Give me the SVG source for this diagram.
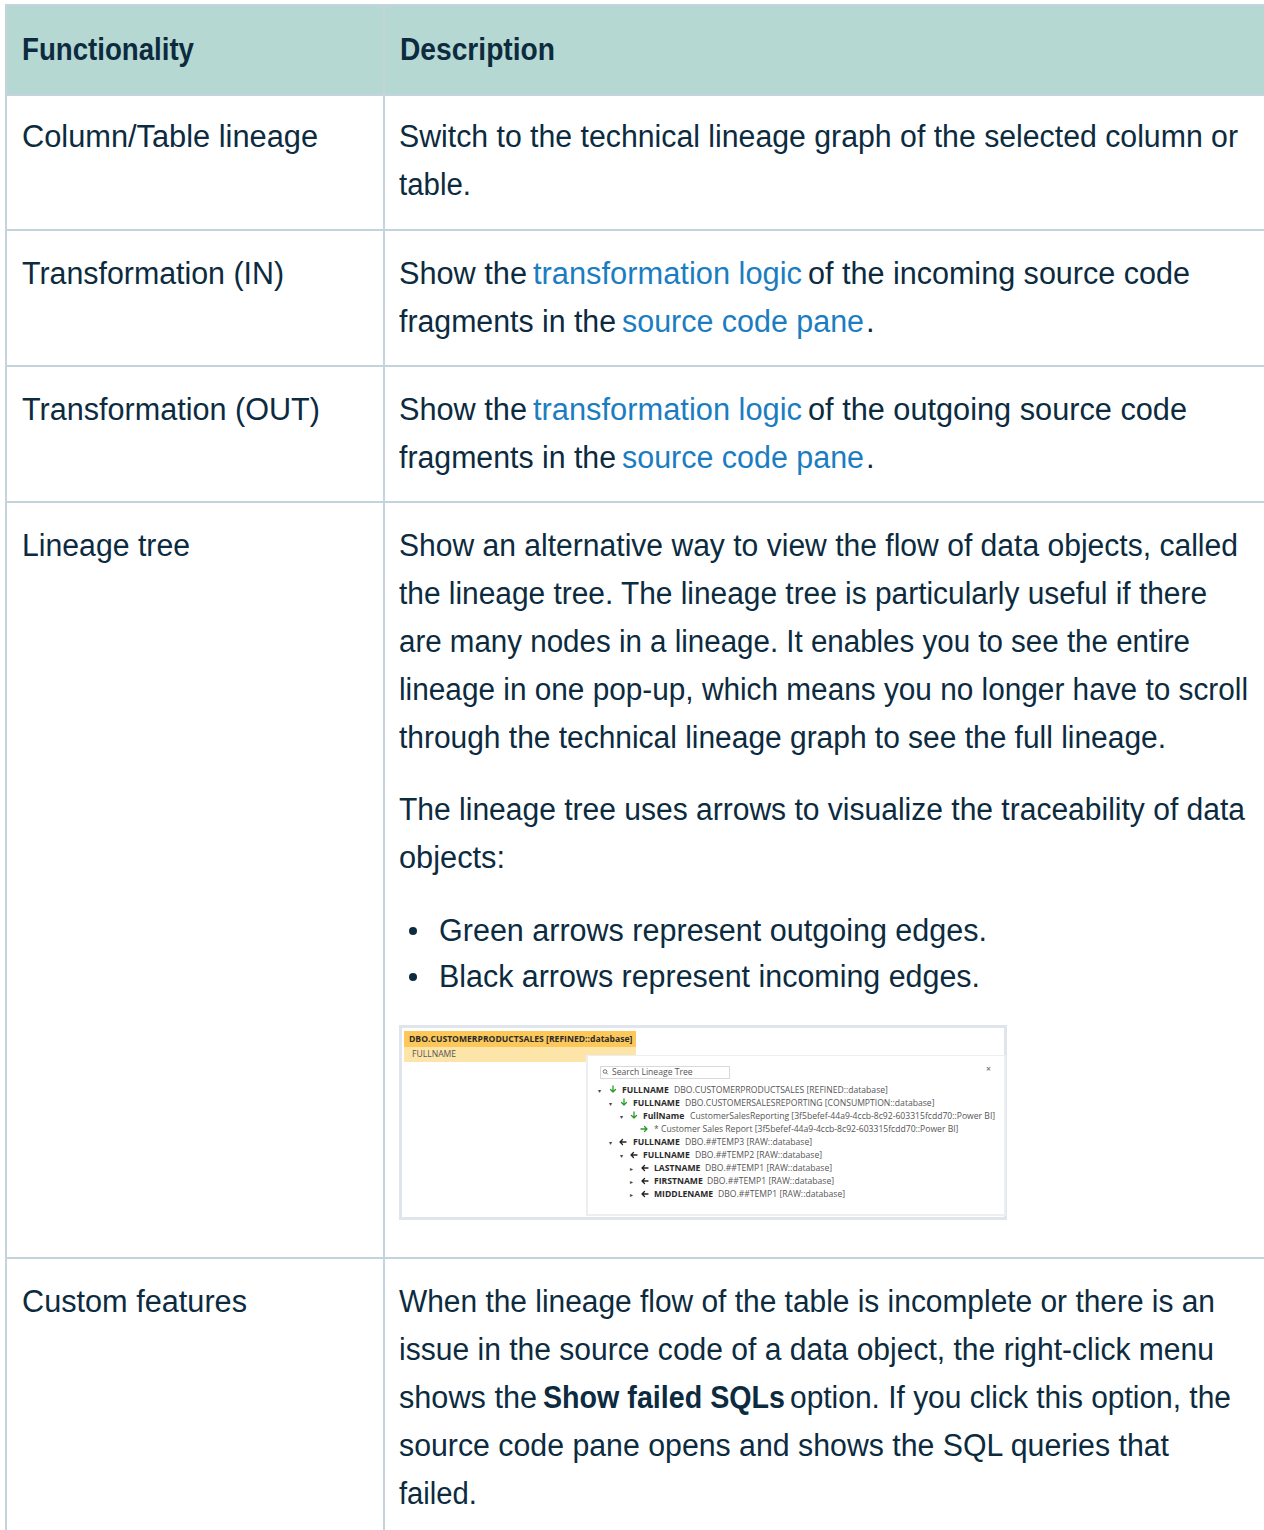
<svg xmlns="http://www.w3.org/2000/svg" width="1264" height="1530" viewBox="0 0 1264 1530">
<style>
.t{font-family:"Liberation Sans",Arial,Helvetica,sans-serif;font-size:31px;fill:#0c2b3f}
.b{font-weight:bold}
.l{fill:#1b7dc1}
.g{stroke:#c5d3dc;stroke-width:2;fill:none}
.s{font-family:"Open Sans","Noto Sans",sans-serif;font-size:8.6px;fill:#555}
.sb{font-weight:bold;fill:#2b2b2b}
.tri{font-family:"DejaVu Sans",sans-serif;font-size:6px;fill:#444}
</style>
<rect width="1264" height="1530" fill="#fff"/>
<g id="table-grid">
<rect x="6" y="6" width="1258" height="89" fill="#b6d8d2"/>
<path class="g" d="M6 5V1530M384 5V1530M5 5H1264M6 95H1264M6 230H1264M6 366H1264M6 502H1264M6 1258H1264"/>
</g>
<g id="header">
<text class="t b" x="22" y="60" textLength="172" lengthAdjust="spacingAndGlyphs">Functionality</text>
<text class="t b" x="400" y="60" textLength="155" lengthAdjust="spacingAndGlyphs">Description</text>
</g>
<g id="row-column-table-lineage">
<text class="t" x="22" y="147" textLength="296" lengthAdjust="spacingAndGlyphs">Column/Table lineage</text>
<text class="t" x="399" y="147" textLength="839" lengthAdjust="spacingAndGlyphs">Switch to the technical lineage graph of the selected column or</text>
<text class="t" x="399" y="195" textLength="72" lengthAdjust="spacingAndGlyphs">table.</text>
</g>
<g id="row-transformation-in">
<text class="t" x="22" y="284" textLength="262" lengthAdjust="spacingAndGlyphs">Transformation (IN)</text>
<text class="t" x="399" y="284" textLength="128" lengthAdjust="spacingAndGlyphs">Show the</text>
<text class="t l" x="533" y="284" textLength="269" lengthAdjust="spacingAndGlyphs">transformation logic</text>
<text class="t" x="808" y="284" textLength="382" lengthAdjust="spacingAndGlyphs">of the incoming source code</text>
<text class="t" x="399" y="332" textLength="217" lengthAdjust="spacingAndGlyphs">fragments in the</text>
<text class="t l" x="622" y="332" textLength="242" lengthAdjust="spacingAndGlyphs">source code pane</text>
<text class="t" x="866" y="332">.</text>
</g>
<g id="row-transformation-out">
<text class="t" x="22" y="420" textLength="298" lengthAdjust="spacingAndGlyphs">Transformation (OUT)</text>
<text class="t" x="399" y="420" textLength="128" lengthAdjust="spacingAndGlyphs">Show the</text>
<text class="t l" x="533" y="420" textLength="269" lengthAdjust="spacingAndGlyphs">transformation logic</text>
<text class="t" x="808" y="420" textLength="379" lengthAdjust="spacingAndGlyphs">of the outgoing source code</text>
<text class="t" x="399" y="468" textLength="217" lengthAdjust="spacingAndGlyphs">fragments in the</text>
<text class="t l" x="622" y="468" textLength="242" lengthAdjust="spacingAndGlyphs">source code pane</text>
<text class="t" x="866" y="468">.</text>
</g>
<g id="row-lineage-tree">
<text class="t" x="22" y="556" textLength="168" lengthAdjust="spacingAndGlyphs">Lineage tree</text>
<text class="t" x="399" y="556" textLength="839" lengthAdjust="spacingAndGlyphs">Show an alternative way to view the flow of data objects, called</text>
<text class="t" x="399" y="604" textLength="808" lengthAdjust="spacingAndGlyphs">the lineage tree. The lineage tree is particularly useful if there</text>
<text class="t" x="399" y="652" textLength="791" lengthAdjust="spacingAndGlyphs">are many nodes in a lineage. It enables you to see the entire</text>
<text class="t" x="399" y="700" textLength="849" lengthAdjust="spacingAndGlyphs">lineage in one pop-up, which means you no longer have to scroll</text>
<text class="t" x="399" y="748" textLength="767" lengthAdjust="spacingAndGlyphs">through the technical lineage graph to see the full lineage.</text>
<text class="t" x="399" y="820" textLength="846" lengthAdjust="spacingAndGlyphs">The lineage tree uses arrows to visualize the traceability of data</text>
<text class="t" x="399" y="868" textLength="106" lengthAdjust="spacingAndGlyphs">objects:</text>
<circle cx="413" cy="931" r="4" fill="#0c2b3f"/>
<text class="t" x="439" y="941" textLength="548" lengthAdjust="spacingAndGlyphs">Green arrows represent outgoing edges.</text>
<circle cx="413" cy="977" r="4" fill="#0c2b3f"/>
<text class="t" x="439" y="987" textLength="541" lengthAdjust="spacingAndGlyphs">Black arrows represent incoming edges.</text>
</g>
<g id="lineage-tree-screenshot">
<rect x="400.5" y="1026.5" width="605" height="192" fill="#fff" stroke="#dfe5ea" stroke-width="3"/>
<rect x="404" y="1031" width="232" height="16" fill="#fdc85a"/>
<rect x="404" y="1047" width="232" height="15" fill="#fde4a8"/>
<text class="s sb" x="409" y="1042" font-size="6.5" fill="#6b4a00">DBO.CUSTOMERPRODUCTSALES [REFINED::database]</text>
<text class="s" x="412" y="1057" font-size="6.3">FULLNAME</text>
<rect x="586" y="1055" width="420" height="161" fill="#eceff2"/>
<rect x="588" y="1056" width="416" height="158" fill="#fff"/>
<rect x="600.5" y="1066.5" width="129" height="12" fill="#fff" stroke="#d6dadd"/>
<circle cx="605" cy="1071.5" r="1.8" fill="none" stroke="#555" stroke-width="0.8"/>
<path d="M606.3 1072.8l1.6 1.6" stroke="#555" stroke-width="0.8"/>
<text class="s" x="612" y="1075" font-size="7.2" fill="#777">Search Lineage Tree</text>
<text class="s" x="986" y="1072" font-size="9" fill="#aaa">×</text>
<text class="tri" x="598" y="1093">▾</text>
<text class="s" y="1093"><tspan class="sb" x="622">FULLNAME</tspan><tspan x="674">DBO.CUSTOMERPRODUCTSALES [REFINED::database]</tspan></text>
<text class="tri" x="609" y="1106">▾</text>
<text class="s" y="1106"><tspan class="sb" x="633">FULLNAME</tspan><tspan x="685">DBO.CUSTOMERSALESREPORTING [CONSUMPTION::database]</tspan></text>
<text class="tri" x="620" y="1119">▾</text>
<text class="s" y="1119"><tspan class="sb" x="643">FullName</tspan><tspan x="690">CustomerSalesReporting [3f5befef-44a9-4ccb-8c92-603315fcdd70::Power BI]</tspan></text>
<text class="s" x="654" y="1132">* Customer Sales Report [3f5befef-44a9-4ccb-8c92-603315fcdd70::Power BI]</text>
<text class="tri" x="609" y="1145">▾</text>
<text class="s" y="1145"><tspan class="sb" x="633">FULLNAME</tspan><tspan x="685">DBO.##TEMP3 [RAW::database]</tspan></text>
<text class="tri" x="620" y="1158">▾</text>
<text class="s" y="1158"><tspan class="sb" x="643">FULLNAME</tspan><tspan x="695">DBO.##TEMP2 [RAW::database]</tspan></text>
<text class="tri" x="630" y="1171">▸</text>
<text class="s" y="1171"><tspan class="sb" x="654">LASTNAME</tspan><tspan x="705">DBO.##TEMP1 [RAW::database]</tspan></text>
<text class="tri" x="630" y="1184">▸</text>
<text class="s" y="1184"><tspan class="sb" x="654">FIRSTNAME</tspan><tspan x="707">DBO.##TEMP1 [RAW::database]</tspan></text>
<text class="tri" x="630" y="1197">▸</text>
<text class="s" y="1197"><tspan class="sb" x="654">MIDDLENAME</tspan><tspan x="718">DBO.##TEMP1 [RAW::database]</tspan></text>
<g stroke-width="1.3" fill="none" stroke-linecap="round" stroke-linejoin="round">
<path d="M613 1086v6M610.5 1089.5l2.5 2.5 2.5-2.5" stroke="#2a9a2a"/>
<path d="M624 1099v6M621.5 1102.5l2.5 2.5 2.5-2.5" stroke="#2a9a2a"/>
<path d="M634 1112v6M631.5 1115.5l2.5 2.5 2.5-2.5" stroke="#2a9a2a"/>
<path d="M641 1129h6M644.5 1126.5l2.5 2.5-2.5 2.5" stroke="#2a9a2a"/>
<path d="M620 1142h6M622.5 1139.5l-2.5 2.5 2.5 2.5" stroke="#222"/>
<path d="M631 1155h6M633.5 1152.5l-2.5 2.5 2.5 2.5" stroke="#222"/>
<path d="M642 1168h6M644.5 1165.5l-2.5 2.5 2.5 2.5" stroke="#222"/>
<path d="M642 1181h6M644.5 1178.5l-2.5 2.5 2.5 2.5" stroke="#222"/>
<path d="M642 1194h6M644.5 1191.5l-2.5 2.5 2.5 2.5" stroke="#222"/>
</g>
</g>
<g id="row-custom-features">
<text class="t" x="22" y="1312" textLength="225" lengthAdjust="spacingAndGlyphs">Custom features</text>
<text class="t" x="399" y="1312" textLength="816" lengthAdjust="spacingAndGlyphs">When the lineage flow of the table is incomplete or there is an</text>
<text class="t" x="399" y="1360" textLength="815" lengthAdjust="spacingAndGlyphs">issue in the source code of a data object, the right-click menu</text>
<text class="t" x="399" y="1408" textLength="138" lengthAdjust="spacingAndGlyphs">shows the</text>
<text class="t b" x="543" y="1408" textLength="242" lengthAdjust="spacingAndGlyphs">Show failed SQLs</text>
<text class="t" x="790" y="1408" textLength="441" lengthAdjust="spacingAndGlyphs">option. If you click this option, the</text>
<text class="t" x="399" y="1456" textLength="770" lengthAdjust="spacingAndGlyphs">source code pane opens and shows the SQL queries that</text>
<text class="t" x="399" y="1504" textLength="78" lengthAdjust="spacingAndGlyphs">failed.</text>
</g>
</svg>
